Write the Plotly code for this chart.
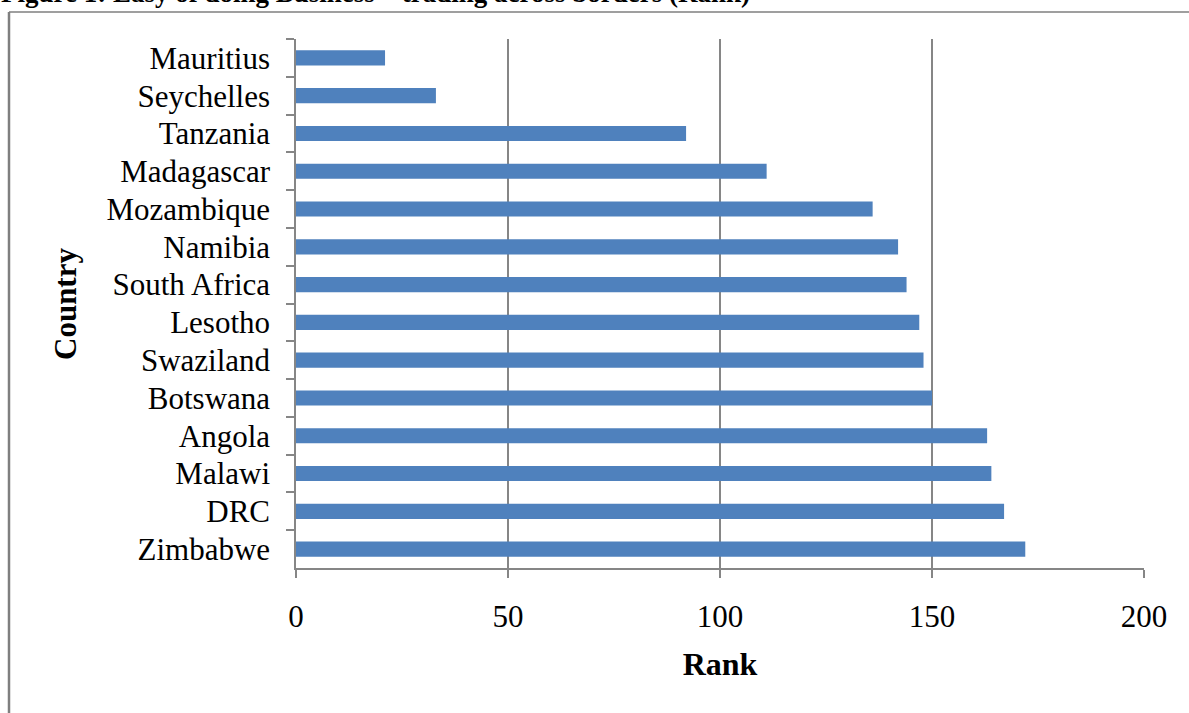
import plotly.graph_objects as go

# Trading-across-borders rank by country (top to bottom)
countries = ["Mauritius", "Seychelles", "Tanzania", "Madagascar", "Mozambique",
             "Namibia", "South Africa", "Lesotho", "Swaziland", "Botswana",
             "Angola", "Malawi", "DRC", "Zimbabwe"]
ranks = [21, 33, 92, 111, 136, 142, 144, 147, 148, 150, 163, 164, 167, 172]

x_ticks = [0, 50, 100, 150, 200]
title_text = "Figure 1: Easy of doing Business \u2013 trading across borders (Rank)"

W, H = 1189, 713
L, R, T, B = 296, 45, 39, 145
plot_w = W - L - R
plot_h = H - T - B


def px_x(p):
    return (p - L) / plot_w


def px_y(p):
    return (H - B - p) / plot_h


serif = "Liberation Serif, Times New Roman, serif"
grey = "#868686"

fig = go.Figure(go.Bar(
    x=ranks, y=countries, orientation="h",
    marker=dict(color="#4F81BD", line=dict(width=0)),
))

fig.update_layout(
    width=W, height=H,
    margin=dict(l=L, r=R, t=T, b=B),
    paper_bgcolor="white", plot_bgcolor="white",
    bargap=0.6,
    showlegend=False,
    font=dict(family=serif, color="black"),
    xaxis=dict(
        range=[0, 200], tickvals=x_ticks, ticktext=[str(v) for v in x_ticks],
        showgrid=True, gridcolor=grey, gridwidth=1.5,
        showline=True, linecolor=grey, linewidth=1.5,
        ticks="outside", ticklen=8, tickcolor=grey, tickwidth=1.5,
        tickfont=dict(size=31, family=serif), ticklabelstandoff=12,
        zeroline=False,
        title=dict(text="<b>Rank</b>", font=dict(size=32, family=serif), standoff=20),
    ),
    yaxis=dict(
        autorange="reversed", type="category",
        showgrid=False, showline=True, linecolor=grey, linewidth=1.5,
        ticks="outside", ticklen=8, tickcolor=grey, tickwidth=1.5,
        tickson="boundaries",
        tickfont=dict(size=31, family=serif), ticklabelstandoff=18,
    ),
    shapes=[
        dict(type="line", xref="paper", yref="paper",
             x0=px_x(9), x1=px_x(9), y0=px_y(12), y1=px_y(H + 5),
             line=dict(color="#7f7f7f", width=2.5)),
        dict(type="line", xref="paper", yref="paper",
             x0=px_x(9), x1=px_x(W + 5), y0=px_y(12), y1=px_y(12),
             line=dict(color="#7f7f7f", width=1.5)),
    ],
    annotations=[
        dict(text="<b>Country</b>", xref="paper", yref="paper",
             x=px_x(65), y=px_y(304), xanchor="center", yanchor="middle",
             textangle=-90, showarrow=False,
             font=dict(size=31, family=serif)),
        dict(text="<b>" + title_text + "</b>", xref="paper", yref="paper",
             x=px_x(-1), y=px_y(-7), xanchor="left", yanchor="middle",
             showarrow=False, font=dict(size=27, family=serif)),
    ],
)

fig.write_html("out.html")
